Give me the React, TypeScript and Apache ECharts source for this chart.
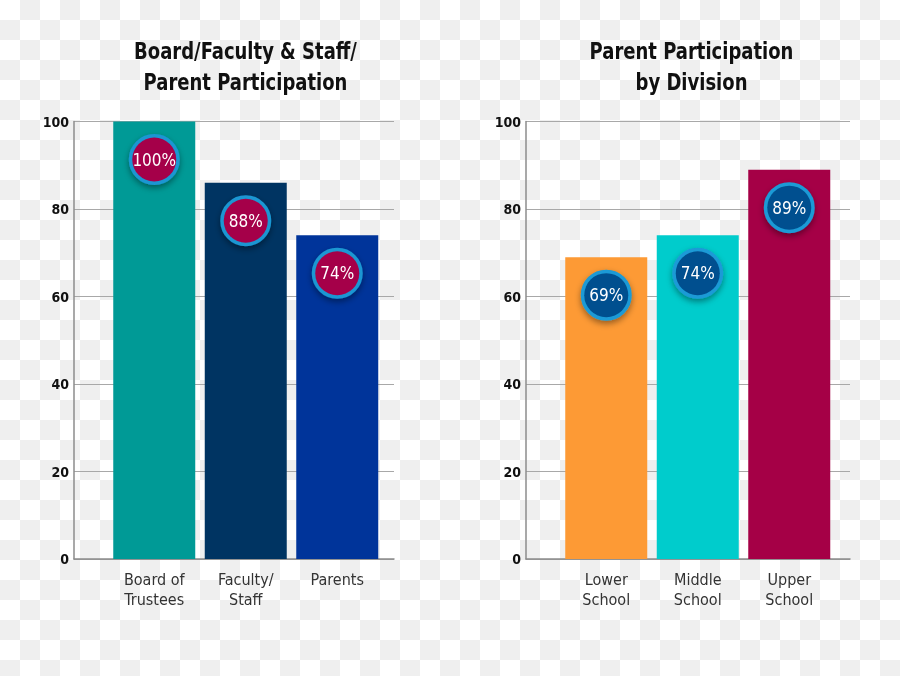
import React, { useEffect, useRef } from "react";
import * as echarts from "echarts";

const leftTitle = "Board/Faculty & Staff/\nParent Participation";
const rightTitle = "Parent Participation\nby Division";

const leftCategories = ["Board of\nTrustees", "Faculty/\nStaff", "Parents"];
const leftValues = [100, 86, 74];
const leftLabels = ["100%", "88%", "74%"];
const leftColors = ["#009a96", "#003462", "#00349a"];

const rightCategories = ["Lower\nSchool", "Middle\nSchool", "Upper\nSchool"];
const rightValues = [69, 74, 89];
const rightLabels = ["69%", "74%", "89%"];
const rightColors = ["#fd9a35", "#00cccc", "#a50046"];

const yMin = 0;
const yMax = 100;
const yInterval = 20;

const FONT = "'DejaVu Sans Condensed', 'Liberation Sans Narrow', Roboto, sans-serif";

export default function App() {
  const ref = useRef<HTMLDivElement>(null);

  useEffect(() => {
    if (!ref.current) return;
    const chart = echarts.init(ref.current, undefined, { renderer: "svg" });

    const top = 121.5;
    const height = 437.5;
    const frames = [
      { left: 74, width: 320 },
      { left: 526, width: 324 },
    ];
    const bands = [
      { left: 108.5, width: 274.5 },
      { left: 560.5, width: 274.5 },
    ];

    const grids = [
      ...frames.map((f) => ({ left: f.left, width: f.width, top, height })),
      ...bands.map((b) => ({ left: b.left, width: b.width, top, height })),
    ];

    const frameX = [0, 1].map((i) => ({
      type: "category" as const,
      gridIndex: i,
      data: [""],
      axisLine: { show: true, lineStyle: { color: "#8c8c8c", width: 1.5 } },
      axisTick: { show: false },
      axisLabel: { show: false },
      splitLine: { show: false },
    }));
    const frameY = [0, 1].map((i) => ({
      type: "value" as const,
      gridIndex: i,
      min: yMin,
      max: yMax,
      interval: yInterval,
      axisLine: { show: true, lineStyle: { color: "#8c8c8c", width: 1.5 } },
      axisTick: { show: false },
      axisLabel: {
        margin: 5,
        color: "#111",
        fontFamily: FONT,
        fontWeight: "bold" as const,
        fontSize: 14,
      },
      splitLine: { show: true, lineStyle: { color: "#a8a8a8", width: 1.2 } },
    }));
    const catsList = [leftCategories, rightCategories];
    const bandX = [0, 1].map((i) => ({
      type: "category" as const,
      gridIndex: i + 2,
      data: catsList[i],
      axisLine: { show: false },
      axisTick: { show: false },
      axisLabel: {
        margin: 10,
        color: "#333",
        fontFamily: FONT,
        fontSize: 16,
        lineHeight: 20,
      },
    }));
    const bandY = [0, 1].map((i) => ({
      type: "value" as const,
      gridIndex: i + 2,
      min: yMin,
      max: yMax,
      interval: yInterval,
      show: false,
    }));

    const mkSeries = (
      idx: number,
      values: number[],
      labels: string[],
      colors: string[],
      fill: string,
      ring: string
    ) => ({
      type: "bar" as const,
      xAxisIndex: idx + 2,
      yAxisIndex: idx + 2,
      barWidth: 82,
      data: values.map((v, i) => ({ value: v, itemStyle: { color: colors[i] } })),
      label: {
        show: true,
        position: "insideTop" as const,
        distance: 38,
        formatter: (p: any) => labels[p.dataIndex],
        color: "#fff",
        fontFamily: FONT,
        fontSize: 17,
        width: 44,
        height: 44,
        lineHeight: 44,
        align: "center" as const,
        verticalAlign: "middle" as const,
        backgroundColor: fill,
        borderColor: ring,
        borderWidth: 3.5,
        borderRadius: 26,
        shadowColor: "rgba(0,0,0,0.4)",
        shadowBlur: 6,
        shadowOffsetY: 3,
      },
    });

    const titleStyle = (text: string) => ({
      text,
      font: `bold 23px ${FONT}`,
      fill: "#111",
      align: "center",
      verticalAlign: "top",
      lineHeight: 30.5,
    });

    chart.setOption({
      animation: false,
      graphic: [
        {
          type: "text",
          x: 245.5,
          y: 36,
          scaleX: 0.87,
          style: titleStyle(leftTitle),
        },
        {
          type: "text",
          x: 691.5,
          y: 36,
          scaleX: 0.87,
          style: titleStyle(rightTitle),
        },
      ],
      grid: grids,
      xAxis: [...frameX, ...bandX],
      yAxis: [...frameY, ...bandY],
      series: [
        mkSeries(0, leftValues, leftLabels, leftColors, "#a5004a", "#1a96d2"),
        mkSeries(1, rightValues, rightLabels, rightColors, "#00508f", "#1a9ad6"),
      ],
    });

    return () => chart.dispose();
  }, []);

  return (
    <div
      style={{
        position: "fixed",
        left: 0,
        top: 0,
        width: 900,
        height: 676,
        background:
          "conic-gradient(#efefef 0 25%, #ffffff 0 50%, #efefef 0 75%, #ffffff 0) 0 0 / 40px 40px",
      }}
    >
      <div ref={ref} style={{ width: 900, height: 676 }} />
    </div>
  );
}
